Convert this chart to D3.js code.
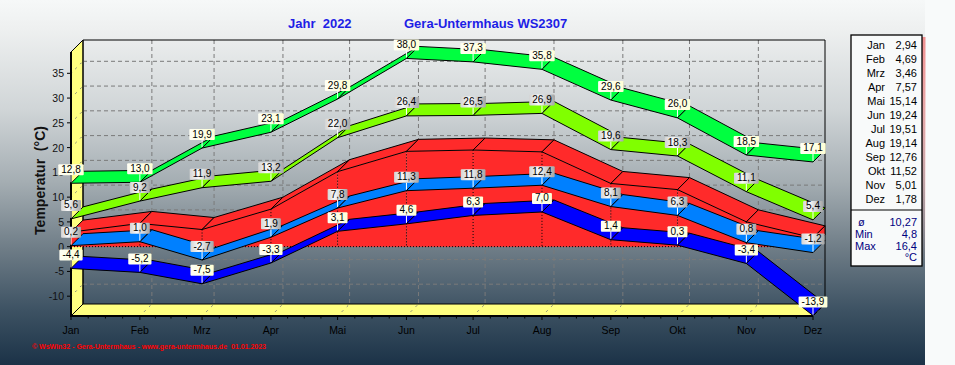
<!DOCTYPE html>
<html>
<head>
<meta charset="utf-8">
<script src="https://cdn.jsdelivr.net/npm/d3@7"></script>
<style>
  body { margin: 0; background: #f8fafa; }
  svg { display: block; font-family: Arial, 'Liberation Sans', sans-serif; }
</style>
</head>
<body>
<script>
// Monthly data, Gera-Untermhaus 2022
const months = ['Jan', 'Feb', 'Mrz', 'Apr', 'Mai', 'Jun', 'Jul', 'Aug', 'Sep', 'Okt', 'Nov', 'Dez'];
const monthDays = [0, 31, 59, 90, 120, 151, 181, 212, 243, 273, 304, 334];
const absMax = [12.8, 13.0, 19.9, 23.1, 29.8, 38.0, 37.3, 35.8, 29.6, 26.0, 18.5, 17.1];
const meanMax = [5.6, 9.2, 11.9, 13.2, 22.0, 26.4, 26.5, 26.9, 19.6, 18.3, 11.1, 5.4];
const meanTemp = [2.94, 4.69, 3.46, 7.57, 15.14, 19.24, 19.51, 19.14, 12.76, 11.52, 5.01, 1.78];
const meanMin = [0.2, 1.0, -2.7, 1.9, 7.8, 11.3, 11.8, 12.4, 8.1, 6.3, 0.8, -1.2];
const absMin = [-4.4, -5.2, -7.5, -3.3, 3.1, 4.6, 6.3, 7.0, 1.4, 0.3, -3.4, -13.9];
const yTicks = [-10, -5, 0, 5, 10, 15, 20, 25, 30, 35];
const statNames = ['ø', 'Min', 'Max'];
const statValues = ['10,27', '4,8', '16,4'];

const w = 955;
const h = 365;
const depth = 12;

const locale = d3.formatLocale({ decimal: ',', thousands: '.', grouping: [3], currency: ['', ''], minus: '-' });
const f1 = locale.format('.1f');
const f2 = locale.format('.2f');
const f0 = locale.format('d');

const x = d3.scaleLinear().domain([0, 334]).range([71, 813]);
const y = d3.scaleLinear().domain([-14, 39.3]).range([316, 52]);

const x0 = x.range()[0], x1 = x.range()[1];
const yTop = y.range()[1], yBot = y.range()[0];

const svg = d3.select('body').append('svg').attr('width', w).attr('height', h);
const defs = svg.append('defs');

// background gradient
const bg = defs.append('linearGradient').attr('id', 'bg').attr('x1', 0).attr('y1', 0).attr('x2', 0).attr('y2', 1);
[[0, '#f6f8f8'], [0.08, '#eef0f0'], [0.3, '#d0d5d7'], [0.5, '#a4adb2'], [0.68, '#6f7d87'], [0.85, '#3d5263'], [1, '#1b3247']]
  .forEach(([o, c]) => bg.append('stop').attr('offset', o).attr('stop-color', c));

const cream = defs.append('linearGradient').attr('id', 'cream');
[[0, '#fffff4'], [1, '#ffffd6']].forEach(([o, c]) => cream.append('stop').attr('offset', o).attr('stop-color', c));
const gray = defs.append('linearGradient').attr('id', 'gray');
[[0, '#d4d4d4'], [0.35, '#f8f8f8'], [1, '#a6a6a6']].forEach(([o, c]) => gray.append('stop').attr('offset', o).attr('stop-color', c));
const shadow = defs.append('linearGradient').attr('id', 'shadow').attr('x1', 0).attr('y1', 0).attr('x2', 0).attr('y2', 1);
[[0, '#f09090', 1], [1, '#f09090', 0]].forEach(([o, c, a]) =>
  shadow.append('stop').attr('offset', o).attr('stop-color', c).attr('stop-opacity', a));

svg.append('rect').attr('width', 925).attr('height', h).attr('fill', 'url(#bg)');

// side wall and floor
const pts = a => a.map(p => p.join(',')).join(' ');
svg.append('polygon')
  .attr('points', pts([[x0, yTop], [x0 + depth, yTop - depth], [x0 + depth, yBot - depth], [x0, yBot]]))
  .attr('fill', '#ffff80').attr('stroke', '#000');
svg.append('polygon')
  .attr('points', pts([[x0, yBot], [x0 + depth, yBot - depth], [x1 + depth, yBot - depth], [x1, yBot]]))
  .attr('fill', '#ffff80').attr('stroke', '#000');

// grid on back wall, side wall and floor
const grid = svg.append('g').attr('stroke', '#7a7a7a').attr('stroke-dasharray', '4,3').attr('fill', 'none');
grid.selectAll('.gh').data(yTicks).join('line')
  .attr('x1', x0 + depth).attr('x2', x1 + depth)
  .attr('y1', d => y(d) - depth).attr('y2', d => y(d) - depth);
grid.selectAll('.gv').data(monthDays.slice(1, -1)).join('line')
  .attr('x1', d => x(d) + depth).attr('x2', d => x(d) + depth)
  .attr('y1', yTop - depth).attr('y2', yBot - depth);
grid.selectAll('.gs').data(yTicks).join('line')
  .attr('stroke-dasharray', '2,5').attr('stroke-dashoffset', -6)
  .attr('x1', x0).attr('x2', x0 + depth)
  .attr('y1', d => y(d)).attr('y2', d => y(d) - depth);
grid.selectAll('.gf').data(monthDays.slice(1)).join('line')
  .attr('stroke-dasharray', '2,5').attr('stroke-dashoffset', -6)
  .attr('x1', d => x(d)).attr('x2', d => x(d) + depth)
  .attr('y1', yBot).attr('y2', yBot - depth);

// back wall border
svg.append('polyline')
  .attr('points', pts([[x0, yTop], [x0 + depth, yTop - depth], [x1 + depth, yTop - depth], [x1 + depth, yBot - depth]]))
  .attr('fill', 'none').attr('stroke', '#000');
svg.append('line').attr('x1', x0 + depth).attr('x2', x0 + depth).attr('y1', yTop - depth).attr('y2', yBot - depth)
  .attr('stroke', '#000');
svg.append('line').attr('x1', x0).attr('x2', x0).attr('y1', yTop).attr('y2', yBot + 1)
  .attr('stroke', '#000').attr('stroke-width', 2);
svg.append('line').attr('x1', x0).attr('x2', x1).attr('y1', yBot).attr('y2', yBot)
  .attr('stroke', '#000').attr('stroke-width', 2);

// y axis
const yAxis = svg.append('g');
yAxis.selectAll('line').data(yTicks).join('line')
  .attr('x1', x0 - 4).attr('x2', x0).attr('y1', d => y(d)).attr('y2', d => y(d)).attr('stroke', '#000');
yAxis.selectAll('text').data(yTicks).join('text')
  .attr('x', 64).attr('y', d => y(d) + 4).attr('text-anchor', 'end')
  .attr('font-size', 10.5).attr('fill', '#111').text(f0);

// x axis
const minor = d3.range(0, 11).flatMap(i => [1, 2, 3].map(k => monthDays[i] + (monthDays[i + 1] - monthDays[i]) * k / 4));
const xAxis = svg.append('g');
xAxis.selectAll('.maj').data(monthDays).join('line')
  .attr('x1', d => x(d)).attr('x2', d => x(d)).attr('y1', yBot).attr('y2', yBot + 4).attr('stroke', '#000');
xAxis.selectAll('.min').data(minor).join('line')
  .attr('x1', d => x(d)).attr('x2', d => x(d)).attr('y1', yBot).attr('y2', yBot + 2.5).attr('stroke', '#000');
xAxis.selectAll('text').data(months).join('text')
  .attr('x', (d, i) => x(monthDays[i])).attr('y', 334).attr('text-anchor', 'middle')
  .attr('font-size', 10.5).attr('fill', '#000').text(d => d);

// mean temperature as a 3D area
const red = '#ff2a2a';
const topPts = meanTemp.map((v, i) => [x(monthDays[i]), y(v)]);
const basePts = monthDays.map(d => [x(d), y(0)]);
const area = svg.append('g');
area.selectAll('.front').data(d3.pairs(d3.range(topPts.length))).join('polygon')
  .attr('points', ([i, j]) => pts([topPts[i], topPts[j], basePts[j], basePts[i]]))
  .attr('fill', red);
area.selectAll('.topface').data(d3.pairs(topPts)).join('polygon')
  .attr('points', ([a, b]) => pts([a, b, [b[0] + depth, b[1] - depth], [a[0] + depth, a[1] - depth]]))
  .attr('fill', red).attr('stroke', '#000').attr('stroke-linejoin', 'round');
const last = topPts.length - 1;
area.append('polygon')
  .attr('points', pts([basePts[last], topPts[last],
    [topPts[last][0] + depth, topPts[last][1] - depth], [basePts[last][0] + depth, basePts[last][1] - depth]]))
  .attr('fill', red).attr('stroke', '#000');
area.selectAll('.drop').data(d3.range(1, last + 1)).join('line')
  .attr('x1', i => topPts[i][0]).attr('x2', i => topPts[i][0])
  .attr('y1', i => topPts[i][1]).attr('y2', y(0))
  .attr('stroke', '#000').attr('stroke-dasharray', '1,2');
area.append('line').attr('x1', x0).attr('x2', x1).attr('y1', y(0)).attr('y2', y(0))
  .attr('stroke', '#000').attr('stroke-dasharray', '1,2');

// ribbons for the line series
const ribbon = (values, color) => {
  const p = values.map((v, i) => [x(monthDays[i]), y(v)]);
  svg.append('g').selectAll('polygon').data(d3.pairs(p)).join('polygon')
    .attr('points', ([a, b]) => pts([a, b, [b[0] + depth, b[1] - depth], [a[0] + depth, a[1] - depth]]))
    .attr('fill', color).attr('stroke', '#000').attr('stroke-linejoin', 'round');
};
ribbon(absMax, '#00ff40');
ribbon(meanMax, '#80ff00');
ribbon(meanMin, '#0080ff');
ribbon(absMin, '#0000ff');

// value labels
const labels = (values, fill) => {
  const g = svg.append('g');
  values.forEach((v, i) => {
    const px = x(monthDays[i]);
    const py = y(v);
    const lg = g.append('g');
    lg.append('line').attr('x1', px).attr('x2', px).attr('y1', py - 8).attr('y2', py - 1)
      .attr('stroke', '#fff');
    const rect = lg.append('rect').attr('fill', fill).attr('rx', 1);
    const t = lg.append('text').attr('x', px).attr('y', py - 10.5)
      .attr('text-anchor', 'middle').attr('font-size', 10).attr('fill', '#000').text(f1(v));
    const tw = t.node().getComputedTextLength();
    rect.attr('x', px - tw / 2 - 3).attr('y', py - 19).attr('width', tw + 6).attr('height', 11);
  });
};
labels(absMax, 'url(#cream)');
labels(meanMax, 'url(#gray)');
labels(meanMin, 'url(#gray)');
labels(absMin, 'url(#cream)');

// titles
svg.append('text').attr('x', 288).attr('y', 28).attr('font-size', 13).attr('font-weight', 'bold')
  .attr('fill', '#1e1ee6').style('white-space', 'pre').text('Jahr  2022');
svg.append('text').attr('x', 404).attr('y', 28).attr('font-size', 13).attr('font-weight', 'bold')
  .attr('fill', '#1e1ee6').text('Gera-Untermhaus WS2307');
svg.append('text').attr('transform', 'translate(44.5,180.5) rotate(-90)').attr('text-anchor', 'middle')
  .attr('font-size', 14).attr('font-weight', 'bold').attr('fill', '#111').style('white-space', 'pre')
  .text('Temperatur  (°C)');

// legend with monthly means
svg.append('rect').attr('x', 922).attr('y', 37).attr('width', 3.5).attr('height', 228).attr('fill', 'url(#shadow)');
svg.append('rect').attr('x', 851).attr('y', 35).attr('width', 71).attr('height', 231)
  .attr('fill', '#f8fafa').attr('stroke', '#000').attr('stroke-width', 1.3);
svg.append('line').attr('x1', 851).attr('x2', 922).attr('y1', 210).attr('y2', 210).attr('stroke', '#000');
const leg = svg.append('g').attr('font-size', 11);
leg.selectAll('.m').data(months).join('text')
  .attr('x', 885).attr('y', (d, i) => 49 + i * 14.03).attr('text-anchor', 'end').attr('fill', '#000').text(d => d);
leg.selectAll('.v').data(meanTemp).join('text')
  .attr('x', 917).attr('y', (d, i) => 49 + i * 14.03).attr('text-anchor', 'end').attr('fill', '#000').text(f2);
leg.selectAll('.sn').data(statNames).join('text')
  .attr('x', (d, i) => (i === 0 ? 858 : 855)).attr('y', (d, i) => 226 + i * 12.2).attr('fill', '#000080').text(d => d);
leg.selectAll('.sv').data(statValues).join('text')
  .attr('x', 917).attr('y', (d, i) => 226 + i * 12.2).attr('text-anchor', 'end').attr('fill', '#000080').text(d => d);
leg.append('text').attr('x', 917).attr('y', 261).attr('text-anchor', 'end').attr('fill', '#000080').text('°C');

// footer
svg.append('text').attr('x', 32).attr('y', 349).attr('font-size', 7).attr('font-weight', 'bold')
  .attr('fill', '#ff0000').style('white-space', 'pre')
  .text('© WsWin32 - Gera-Untermhaus - www.gera-untermhaus.de  01.01.2023');
</script>
</body>
</html>
